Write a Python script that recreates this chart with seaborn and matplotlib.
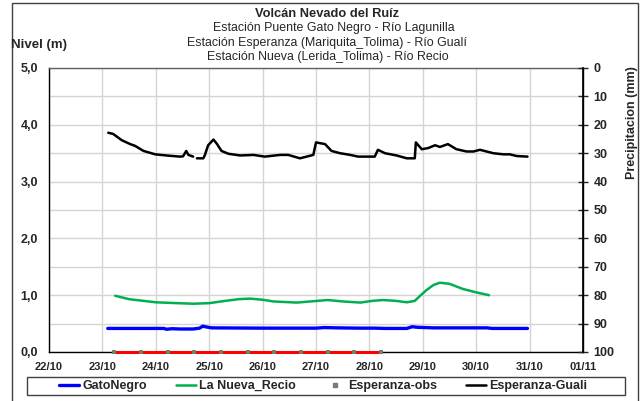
import matplotlib
matplotlib.use("Agg")
import matplotlib.pyplot as plt
import matplotlib.patches as mpatches
from matplotlib.lines import Line2D
from matplotlib.ticker import MultipleLocator, FixedLocator
import seaborn as sns
import pandas as pd
import numpy as np

# ---------------- data (x = days after 22/10) ----------------
date_labels = ["22/10", "23/10", "24/10", "25/10", "26/10", "27/10",
               "28/10", "29/10", "30/10", "31/10", "01/11"]
nivel_labels = ["0,0", "1,0", "2,0", "3,0", "4,0", "5,0"]
precip_ticks = [0, 10, 20, 30, 40, 50, 60, 70, 80, 90, 100]

gato_day = [1.10, 2.15, 2.20, 2.30, 2.45, 2.70, 2.82, 2.88, 2.95, 3.05, 4.00,
            5.00, 5.15, 5.40, 5.80, 6.10, 6.30, 6.70, 6.80, 6.90, 7.20, 8.20,
            8.30, 8.96]
gato_val = [0.415, 0.415, 0.400, 0.410, 0.405, 0.405, 0.420, 0.455, 0.440,
            0.425, 0.420, 0.420, 0.430, 0.425, 0.420, 0.420, 0.415, 0.415,
            0.445, 0.435, 0.425, 0.425, 0.415, 0.415]

recio_day = [1.24, 1.50, 2.00, 2.40, 2.70, 3.00, 3.30, 3.55, 3.76, 4.00, 4.20,
             4.64, 4.90, 5.22, 5.50, 5.83, 6.05, 6.25, 6.50, 6.70, 6.85, 6.95,
             7.07, 7.20, 7.32, 7.50, 7.75, 8.00, 8.24]
recio_val = [0.99, 0.93, 0.875, 0.86, 0.85, 0.86, 0.90, 0.93, 0.94, 0.92, 0.89,
             0.87, 0.89, 0.915, 0.89, 0.87, 0.90, 0.915, 0.90, 0.875, 0.90,
             0.99, 1.09, 1.18, 1.22, 1.20, 1.11, 1.05, 1.00]

obs_day = [1.22, 1.72, 2.22, 2.72, 3.22, 3.72, 4.22, 4.72, 5.22, 5.72, 6.22]
obs_val = [0.0] * 11

guali_day_a = [1.11, 1.20, 1.36, 1.52, 1.61, 1.77, 1.99, 2.20, 2.45, 2.51,
               2.57, 2.61, 2.70]
guali_val_a = [3.86, 3.84, 3.73, 3.66, 3.63, 3.54, 3.48, 3.46, 3.44, 3.445,
               3.54, 3.47, 3.44]
guali_day_b = [2.77, 2.89, 2.92, 2.98, 3.08, 3.14, 3.23, 3.36, 3.58, 3.83,
               4.04, 4.33, 4.48, 4.70, 4.95, 5.00, 5.17, 5.29, 5.45, 5.64,
               5.79, 6.10, 6.16, 6.29, 6.51, 6.70, 6.85, 6.87, 6.98, 7.10,
               7.23, 7.32, 7.47, 7.63, 7.82, 7.95, 8.07, 8.32, 8.51, 8.63,
               8.76, 8.96]
guali_val_b = [3.41, 3.41, 3.47, 3.64, 3.74, 3.67, 3.54, 3.49, 3.46, 3.47,
               3.44, 3.47, 3.47, 3.41, 3.47, 3.69, 3.66, 3.54, 3.50, 3.47,
               3.44, 3.44, 3.56, 3.50, 3.46, 3.41, 3.41, 3.69, 3.57, 3.59,
               3.64, 3.61, 3.66, 3.57, 3.53, 3.53, 3.56, 3.50, 3.48, 3.48,
               3.45, 3.44]

guali = pd.DataFrame({
    "day": guali_day_a + guali_day_b,
    "val": guali_val_a + guali_val_b,
    "seg": ["a"] * len(guali_day_a) + ["b"] * len(guali_day_b),
})

# ---------------- style ----------------
sns.set_style("white")
plt.rcParams["font.family"] = ["Liberation Sans", "DejaVu Sans"]

W, H = 640, 401
fig = plt.figure(figsize=(6.4, 4.01), dpi=100)

def fx(px):
    return px / W

def fy(py):
    return 1 - py / H

ax = fig.add_axes([fx(49), fy(352), fx(583) - fx(49), fy(68) - fy(352)])

# lines
sns.lineplot(x=gato_day, y=gato_val, ax=ax, color="#0000ff", lw=2.4,
             estimator=None, sort=False, zorder=3)
sns.lineplot(x=recio_day, y=recio_val, ax=ax, color="#00b050", lw=1.8,
             estimator=None, sort=False, zorder=3)
sns.lineplot(data=guali, x="day", y="val", units="seg", ax=ax, color="black",
             lw=1.8, estimator=None, sort=False, zorder=3)
sns.lineplot(x=obs_day, y=obs_val, ax=ax, color="#ff0000", lw=2.2,
             estimator=None, sort=False, zorder=4, clip_on=False)
sns.scatterplot(x=obs_day, y=obs_val, ax=ax, color="#6f806f", marker="s",
                s=8, linewidth=0, zorder=5, clip_on=False)

ax.set_xlim(0, 10)
ax.set_ylim(0, 5)
ax.xaxis.set_major_locator(FixedLocator(range(11)))
ax.set_xticklabels(date_labels)
ax.yaxis.set_major_locator(FixedLocator([0, 1, 2, 3, 4, 5]))
ax.set_yticklabels(nivel_labels)
ax.yaxis.set_minor_locator(MultipleLocator(0.5))
ax.grid(True, which="both", color="#d4d4d4", lw=1)
ax.set_axisbelow(True)
ax.set_xlabel("")
ax.set_ylabel("")
ax.tick_params(axis="both", which="both", length=0)
ax.tick_params(axis="x", pad=7, labelsize=8)
ax.tick_params(axis="y", pad=8, labelsize=9)
for lab in ax.get_xticklabels() + ax.get_yticklabels():
    lab.set_fontweight("bold")
for s in ax.spines.values():
    s.set_color("black")
    s.set_linewidth(1)
ax.spines["top"].set_color("#606060")

ax2 = ax.twinx()
ax2.set_ylim(100, 0)
ax2.set_yticks(precip_ticks)
ax2.set_yticklabels([str(t) for t in precip_ticks])
ax2.tick_params(axis="y", direction="inout", length=7, width=1,
                labelsize=9, pad=4)
for lab in ax2.get_yticklabels():
    lab.set_fontweight("bold")
for s in ax2.spines.values():
    s.set_visible(False)
ax2.spines["right"].set_visible(True)
ax2.spines["right"].set_color("black")
ax2.spines["right"].set_linewidth(1.2)

# titles
fig.text(fx(327), fy(14), "Volcán Nevado del Ruíz", ha="center", va="center",
         fontsize=9.3, fontweight="bold")
fig.text(fx(334), fy(28), "Estación Puente Gato Negro - Río Lagunilla",
         ha="center", va="center", fontsize=8.9)
fig.text(fx(327), fy(43), "Estación Esperanza (Mariquita_Tolima) - Río Gualí",
         ha="center", va="center", fontsize=8.9)
fig.text(fx(328), fy(57), "Estación Nueva (Lerida_Tolima) - Río Recio",
         ha="center", va="center", fontsize=8.9)
fig.text(fx(11), fy(45), "Nivel (m)", ha="left", va="center",
         fontsize=9.5, fontweight="bold")
fig.text(fx(632), fy(123), "Precipitacion (mm)", ha="center", va="center",
         rotation=90, fontsize=9, fontweight="bold")

# outer border
fig.add_artist(mpatches.Rectangle((fx(12), fy(420)), fx(637.5) - fx(12),
                                  fy(3) - fy(420), fill=False,
                                  edgecolor="#404040", lw=1,
                                  transform=fig.transFigure))
# legend frame
fig.add_artist(mpatches.Rectangle((fx(27), fy(395)), fx(625) - fx(27),
                                  fy(377) - fy(395), fill=False,
                                  edgecolor="#404040", lw=1,
                                  transform=fig.transFigure))

# legend
handles = [
    Line2D([], [], color="#0000ff", lw=2.4),
    Line2D([], [], color="#00b050", lw=1.8),
    Line2D([], [], color="#6f806f", marker="s", markersize=2.5, lw=0),
    Line2D([], [], color="black", lw=1.8),
]
labels = ["GatoNegro", "La Nueva_Recio", "Esperanza-obs", "Esperanza-Guali"]
leg = fig.legend(handles, labels, loc="center",
                 bbox_to_anchor=(fx(59), fy(395), fx(587) - fx(59),
                                 fy(377) - fy(395)),
                 mode="expand", ncol=4, frameon=False,
                 borderpad=0, handlelength=1.6, handletextpad=0.25,
                 columnspacing=1.0, prop={"size": 9, "weight": "bold"},
                 borderaxespad=0)

fig.savefig("out.png", dpi=100)
